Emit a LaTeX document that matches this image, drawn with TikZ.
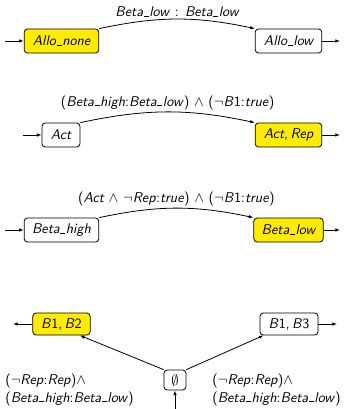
\documentclass[tikz,border=0pt]{standalone}
\usetikzlibrary{arrows.meta}
\definecolor{stateyellow}{RGB}{255,236,0}
\newcommand{\up}[1]{\textup{#1}}
\newcommand{\us}{\kern.04em\rule{.36em}{0.55pt}\kern.04em}
\newcommand{\cm}{\up{,}\kern.17em}
\begin{document}
\begin{tikzpicture}[x=0.75pt,y=-0.75pt,
  font=\fontsize{10.6}{13}\selectfont\sffamily\itshape,
  state/.style={draw, rounded corners=2.5pt, line width=0.6pt, minimum height=18pt, inner sep=1pt},
  hot/.style={state, fill=stateyellow},
  edge/.style={line width=0.6pt, -{Latex[length=3.5pt,width=2.6pt]}},
  lbl/.style={inner sep=0pt}]
\useasboundingbox (0,0) rectangle (343,409);
% row 1
\node[hot, minimum width=56pt] (an) at (61.5,41) {Allo\us none};
\node[state, minimum width=50pt] (al) at (288.5,41) {Allo\us low};
\coordinate (an0) at (5,41);
\coordinate (al1) at (340,41);
\draw[edge] (an0) -- (an);
\draw[edge] (al) -- (al1);
\draw[edge] (an.north east) to[bend left=12] node[lbl, above=1.5pt] {Beta\us low \up{:} Beta\us low} (al.north west);
% row 2
\node[state, minimum width=28.5pt] (ac) at (61,135) {Act};
\node[hot, minimum width=50pt] (ar) at (288.5,135) {Act\cm Rep};
\coordinate (ac0) at (23,135);
\coordinate (ar1) at (340,135);
\draw[edge] (ac0) -- (ac);
\draw[edge] (ar) -- (ar1);
\draw[edge] (ac.north east) to[bend left=12] node[lbl, above=1.5pt] {\up{(}Beta\us high\up{:}Beta\us low\up{)} $\wedge$ \up{(}$\neg$B\up{1:}true\up{)}} (ar.north west);
% row 3
\node[state, minimum width=56pt] (bh) at (61.5,230) {Beta\us high};
\node[hot, minimum width=52pt] (bl) at (288.5,230) {Beta\us low};
\coordinate (bh0) at (5,230);
\coordinate (bl1) at (340,230);
\draw[edge] (bh0) -- (bh);
\draw[edge] (bl) -- (bl1);
\draw[edge] (bh.north east) to[bend left=12] node[lbl, above=1.5pt] {\up{(}Act $\wedge$ $\neg$Rep\up{:}true\up{)} $\wedge$ \up{(}$\neg$B\up{1:}true\up{)}} (bl.north west);
% row 4
\node[hot, minimum width=43pt, minimum height=16.5pt] (b12) at (61.5,324) {B\up{1}\cm B\up{2}};
\node[state, minimum width=43.5pt, minimum height=16.5pt] (b13) at (289,324) {B\up{1}\cm B\up{3}};
\node[state, minimum width=16.5pt, minimum height=15pt] (e) at (175,380) {\up{$\emptyset$}};
\coordinate (b120) at (13,324);
\coordinate (b131) at (337,324);
\coordinate (e0) at (175,409);
\draw[edge] (b12) -- (b120);
\draw[edge] (b13) -- (b131);
\draw[edge] (e0) -- (e);
\draw[edge] (e.north west) -- ([xshift=-8pt]b12.south east);
\draw[edge] (e.north east) -- ([xshift=3pt]b13.south west);
\node[lbl, anchor=north west, align=left] (ll) at (5,374) {\up{(}$\neg$Rep\up{:}Rep\up{)}$\wedge$\\\up{(}Beta\us high\up{:}Beta\us low\up{)}};
\node[lbl, anchor=north west, align=left] (rl) at (212,374) {\up{(}$\neg$Rep\up{:}Rep\up{)}$\wedge$\\\up{(}Beta\us high\up{:}Beta\us low\up{)}};
\end{tikzpicture}
\end{document}
